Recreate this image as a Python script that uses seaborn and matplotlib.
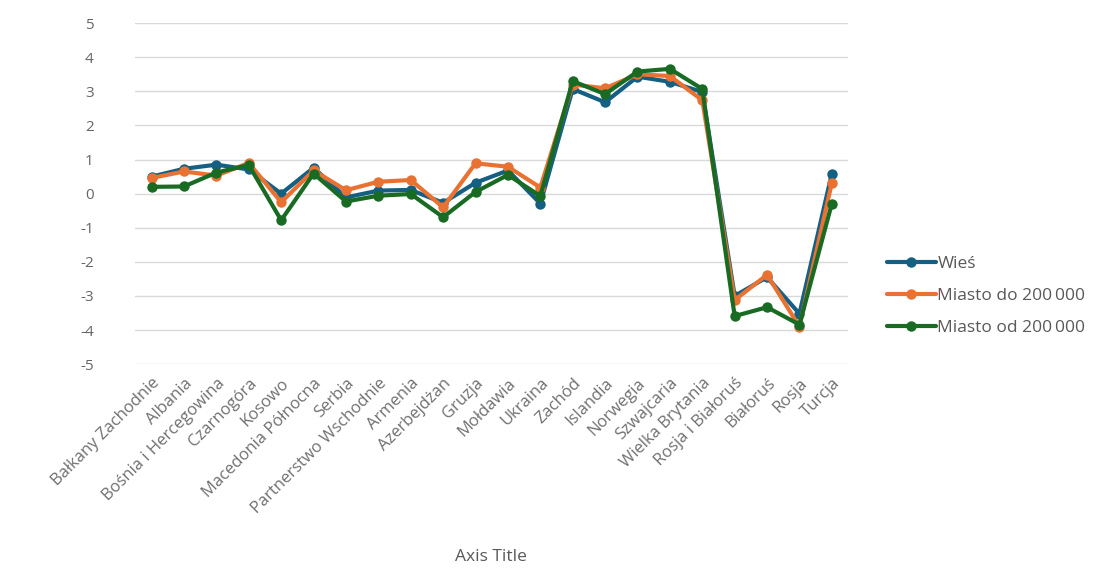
import pandas as pd
import numpy as np
import matplotlib.pyplot as plt
import seaborn as sns

# Chart data
categories = [
    "Bałkany Zachodnie", "Albania", "Bośnia i Hercegowina", "Czarnogóra", "Kosowo",
    "Macedonia Północna", "Serbia", "Partnerstwo Wschodnie", "Armenia", "Azerbejdżan",
    "Gruzja", "Mołdawia", "Ukraina", "Zachód", "Islandia", "Norwegia", "Szwajcaria",
    "Wielka Brytania", "Rosja i Białoruś", "Białoruś", "Rosja", "Turcja",
]
series_names = ["Wieś", "Miasto do 200\u2009000", "Miasto od 200\u2009000"]
wies = [0.50, 0.73, 0.85, 0.71, 0.00, 0.76, -0.11, 0.09, 0.11, -0.27, 0.32,
        0.68, -0.29, 3.07, 2.68, 3.43, 3.28, 2.98, -3.00, -2.45, -3.52, 0.59]
miasto_do = [0.46, 0.65, 0.53, 0.90, -0.25, 0.68, 0.10, 0.35, 0.40, -0.40, 0.89,
             0.79, 0.18, 3.20, 3.09, 3.50, 3.45, 2.74, -3.12, -2.38, -3.90, 0.32]
miasto_od = [0.20, 0.21, 0.62, 0.84, -0.78, 0.59, -0.23, -0.06, -0.01, -0.69, 0.05,
             0.55, -0.07, 3.30, 2.92, 3.58, 3.66, 3.07, -3.59, -3.33, -3.84, -0.29]
y_ticks = [-5, -4, -3, -2, -1, 0, 1, 2, 3, 4, 5]

colors = ["#156082", "#E97132", "#196B24"]

df = pd.DataFrame({
    "kraj": categories * 3,
    "wartosc": wies + miasto_do + miasto_od,
    "grupa": [series_names[0]] * len(categories)
             + [series_names[1]] * len(categories)
             + [series_names[2]] * len(categories),
})
df["pos"] = list(range(len(categories))) * 3

sns.set_style("white")
plt.rcParams['font.family'] = ['Open Sans', 'DejaVu Sans']

fig = plt.figure(figsize=(11.1, 5.69), dpi=100)
ax = fig.add_axes([0.122, 0.360, 0.642, 0.5993])

sns.lineplot(data=df, x="pos", y="wartosc", hue="grupa", hue_order=series_names,
             palette=colors, marker="o", markersize=7.5, markeredgewidth=0,
             linewidth=3.0, sort=False, ax=ax, legend=False)

ax.set_xlim(-0.5, len(categories) - 0.5)
ax.set_ylim(-5, 5)
ax.set_yticks(y_ticks)
ax.set_yticklabels([str(t) for t in y_ticks], fontsize=11, color="#666666")
ax.set_xticks(range(len(categories)))
ax.set_xticklabels(categories, rotation=45, ha="right", rotation_mode="anchor",
                   fontsize=12, color="#707070")
ax.tick_params(axis="x", length=0, pad=8)
ax.tick_params(axis="y", length=0, pad=30)
ax.grid(axis="y", color="#D9D9D9", linewidth=1)
ax.set_axisbelow(True)
for s in ax.spines.values():
    s.set_visible(False)

ax.set_ylabel("")
ax.set_xlabel("Axis Title", fontsize=12.5, color="#595959", fontweight="medium")
ax.xaxis.set_label_coords(491 / 1110, 20 / 569, transform=fig.transFigure)

handles = [plt.Line2D([], [], color=c, linewidth=3.0, marker="o", markersize=7.5,
                      markeredgewidth=0) for c in colors]
fig.legend(handles, series_names, loc="center left", bbox_to_anchor=(0.785, 0.48),
           frameon=False, fontsize=12.5, handlelength=2.8, handletextpad=0.1,
           labelspacing=0.9, labelcolor="#595959")

fig.savefig("out.png", dpi=100, facecolor="white")
